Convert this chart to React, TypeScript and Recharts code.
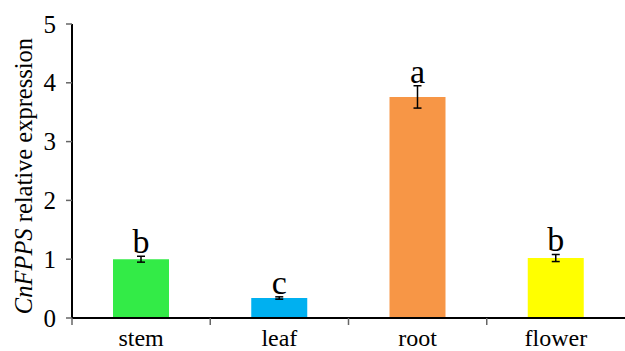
import { BarChart, Bar, XAxis, YAxis, ErrorBar, LabelList, Label, Cell } from 'recharts';

const tissues = ['stem', 'leaf', 'root', 'flower'];
const expression = [1.0, 0.34, 3.76, 1.02];
const errors = [0.05, 0.02, 0.19, 0.06];
const letters = ['b', 'c', 'a', 'b'];
const barColors = ['#33eb47', '#00b0f0', '#f79646', '#ffff00'];
const yTicks = [0, 1, 2, 3, 4, 5];

const data = tissues.map((t, i) => ({ tissue: t, value: expression[i], err: errors[i] }));

const FONT = '"Liberation Serif", "Times New Roman", serif';
const textStyle = { fontFamily: FONT };

function TissueTick(props: any) {
  const { x, y, payload } = props;
  const half = payload && payload.offset ? payload.offset : 553 / 8;
  return (
    <g>
      <line x1={x - half} y1={y} x2={x - half} y2={y + 7} stroke="#666" strokeWidth={1.5} />
      <text x={x} y={y + 28} textAnchor="middle" style={textStyle} fontSize={24} fill="#000">
        {payload.value}
      </text>
    </g>
  );
}

function ValueTick(props: any) {
  const { x, y, payload } = props;
  return (
    <text x={x} y={y} dy="0.34em" textAnchor="end" style={textStyle} fontSize={25} fill="#000">
      {payload.value}
    </text>
  );
}

function SigLetter(props: any) {
  const { x, y, width, height, index } = props;
  const pxPerUnit = height / expression[index];
  const top = y - errors[index] * pxPerUnit;
  return (
    <text x={x + width / 2} y={top - 3} textAnchor="middle" style={textStyle} fontSize={34} fill="#000">
      {letters[index]}
    </text>
  );
}

function YTitle(props: any) {
  const { viewBox } = props;
  const cy = viewBox.y + viewBox.height / 2 + 5;
  const cx = 23;
  return (
    <text
      x={cx}
      y={cy}
      transform={`rotate(-90 ${cx} ${cy})`}
      textAnchor="middle"
      dominantBaseline="central"
      style={textStyle}
      fontSize={24.5}
      fill="#000"
    >
      <tspan fontStyle="italic">CnFPPS</tspan> relative expression
    </text>
  );
}

export default function App() {
  return (
    <div style={{ position: 'absolute', left: 0, top: 0, background: '#fff' }}>
      <BarChart width={625} height={351} data={data} margin={{ top: 24, right: 0, left: 0, bottom: 0 }}>
        <XAxis
          dataKey="tissue"
          height={33}
          tickSize={0}
          tickMargin={0}
          tickLine={false}
          axisLine={{ stroke: '#000', strokeWidth: 2 }}
          tick={<TissueTick />}
          interval={0}
        />
        <YAxis
          width={72}
          domain={[0, 5]}
          ticks={yTicks}
          allowDataOverflow
          tickSize={6}
          tickMargin={10}
          tickLine={{ stroke: '#666', strokeWidth: 1.5 }}
          axisLine={{ stroke: '#000', strokeWidth: 2 }}
          tick={<ValueTick />}
        >
          <Label content={<YTitle />} />
        </YAxis>
        <Bar dataKey="value" barSize={56} isAnimationActive={false}>
          {data.map((d, i) => (
            <Cell key={d.tissue} fill={barColors[i]} />
          ))}
          <ErrorBar dataKey="err" width={4} stroke="#000" strokeWidth={1.5} direction="y" />
          <LabelList dataKey="value" content={<SigLetter />} />
        </Bar>
      </BarChart>
    </div>
  );
}
